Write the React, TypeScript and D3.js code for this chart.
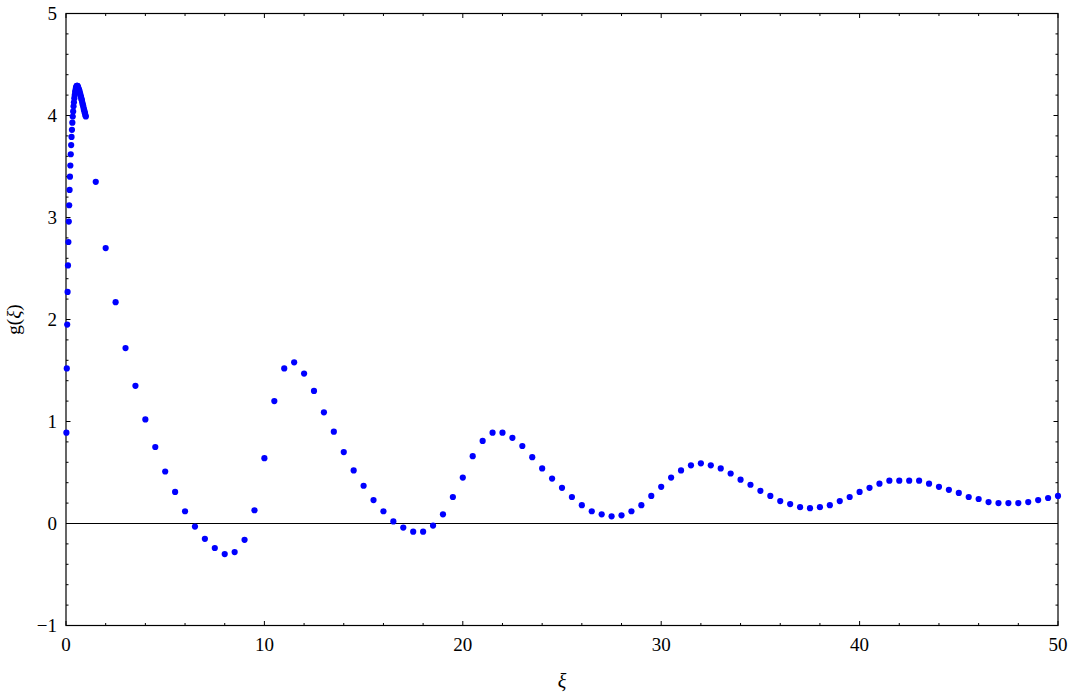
import React from "react";
import * as d3 from "d3";

// Dense sampling near the origin (ξ = 0.02 … 1.00)
const xiFine: number[] = [
  0.02, 0.04, 0.06, 0.08, 0.1, 0.12, 0.14, 0.16, 0.18, 0.2,
  0.22, 0.24, 0.26, 0.28, 0.3, 0.32, 0.34, 0.36, 0.38, 0.4,
  0.42, 0.44, 0.46, 0.48, 0.5, 0.52, 0.54, 0.56, 0.58, 0.6,
  0.62, 0.64, 0.66, 0.68, 0.7, 0.72, 0.74, 0.76, 0.78, 0.8,
  0.82, 0.84, 0.86, 0.88, 0.9, 0.92, 0.94, 0.96, 0.98, 1.0,
];
const gFine: number[] = [
  0.89, 1.52, 1.95, 2.27, 2.53, 2.76, 2.96, 3.12, 3.27, 3.4,
  3.51, 3.62, 3.71, 3.79, 3.86, 3.93, 3.99, 4.04, 4.09, 4.13,
  4.17, 4.2, 4.23, 4.25, 4.27, 4.28, 4.29, 4.29, 4.29, 4.28,
  4.27, 4.26, 4.25, 4.24, 4.22, 4.21, 4.19, 4.18, 4.16, 4.15,
  4.13, 4.11, 4.1, 4.08, 4.06, 4.05, 4.03, 4.02, 4.0, 3.99,
];

// Coarse sampling ξ = 1.5 … 50 in steps of 0.5
const xiCoarse: number[] = [
  1.5, 2, 2.5, 3, 3.5, 4, 4.5, 5, 5.5, 6, 6.5, 7, 7.5, 8, 8.5, 9, 9.5, 10,
  10.5, 11, 11.5, 12, 12.5, 13, 13.5, 14, 14.5, 15, 15.5, 16, 16.5, 17, 17.5,
  18, 18.5, 19, 19.5, 20, 20.5, 21, 21.5, 22, 22.5, 23, 23.5, 24, 24.5, 25,
  25.5, 26, 26.5, 27, 27.5, 28, 28.5, 29, 29.5, 30, 30.5, 31, 31.5, 32, 32.5,
  33, 33.5, 34, 34.5, 35, 35.5, 36, 36.5, 37, 37.5, 38, 38.5, 39, 39.5, 40,
  40.5, 41, 41.5, 42, 42.5, 43, 43.5, 44, 44.5, 45, 45.5, 46, 46.5, 47, 47.5,
  48, 48.5, 49, 49.5, 50,
];
const gCoarse: number[] = [
  3.35, 2.7, 2.17, 1.72, 1.35, 1.02, 0.75, 0.51, 0.31, 0.12, -0.03, -0.15,
  -0.24, -0.3, -0.28, -0.16, 0.13, 0.64, 1.2, 1.52, 1.58, 1.47, 1.3, 1.09,
  0.9, 0.7, 0.52, 0.37, 0.23, 0.12, 0.02, -0.04, -0.08, -0.08, -0.02, 0.09,
  0.26, 0.45, 0.66, 0.81, 0.89, 0.89, 0.84, 0.76, 0.65, 0.54, 0.44, 0.35,
  0.26, 0.18, 0.12, 0.09, 0.07, 0.08, 0.12, 0.18, 0.27, 0.36, 0.45, 0.52,
  0.57, 0.59, 0.57, 0.54, 0.49, 0.43, 0.38, 0.32, 0.27, 0.22, 0.19, 0.16,
  0.15, 0.16, 0.18, 0.22, 0.26, 0.31, 0.35, 0.39, 0.42, 0.42, 0.42, 0.42,
  0.39, 0.36, 0.33, 0.3, 0.26, 0.24, 0.21, 0.2, 0.2, 0.2, 0.21, 0.23, 0.25,
  0.27,
];

const xTickLabels: number[] = [0, 10, 20, 30, 40, 50];
const yTickLabels: number[] = [-1, 0, 1, 2, 3, 4, 5];

const W = 1071;
const H = 692;
const M = { left: 66, right: 1058, top: 13.5, bottom: 625.5 };

export default function App() {
  const x = d3.scaleLinear().domain([0, 50]).range([M.left, M.right]);
  const y = d3.scaleLinear().domain([-1, 5]).range([M.bottom, M.top]);

  const points = [
    ...xiFine.map((xi, i) => ({ xi, g: gFine[i] })),
    ...xiCoarse.map((xi, i) => ({ xi, g: gCoarse[i] })),
  ];

  const xMinor = d3.range(0, 50.001, 2).filter((v) => v % 10 !== 0);
  const yMinor = d3
    .range(-1, 5.001, 0.2)
    .map((v) => Math.round(v * 10) / 10)
    .filter((v) => Math.abs(v - Math.round(v)) > 1e-6);

  const major = 4.5;
  const minor = 2.5;
  const font = "'Liberation Serif', 'Times New Roman', serif";

  return (
    <svg
      width={W}
      height={H}
      style={{ position: "absolute", left: 0, top: 0, background: "#fff" }}
      fontFamily={font}
    >
      {/* zero line */}
      <line x1={M.left} x2={M.right} y1={y(0)} y2={y(0)} stroke="#000" strokeWidth={1.2} />

      {/* frame */}
      <rect
        x={M.left}
        y={M.top}
        width={M.right - M.left}
        height={M.bottom - M.top}
        fill="none"
        stroke="#000"
        strokeWidth={1.2}
      />

      {/* x ticks (bottom & top) */}
      {xTickLabels.map((v) => (
        <g key={"xm" + v}>
          <line x1={x(v)} x2={x(v)} y1={M.bottom} y2={M.bottom - major} stroke="#000" />
          <line x1={x(v)} x2={x(v)} y1={M.top} y2={M.top + major} stroke="#000" />
        </g>
      ))}
      {xMinor.map((v) => (
        <g key={"xn" + v}>
          <line x1={x(v)} x2={x(v)} y1={M.bottom} y2={M.bottom - minor} stroke="#000" />
          <line x1={x(v)} x2={x(v)} y1={M.top} y2={M.top + minor} stroke="#000" />
        </g>
      ))}

      {/* y ticks (left & right) */}
      {yTickLabels.map((v) => (
        <g key={"ym" + v}>
          <line x1={M.left} x2={M.left + major} y1={y(v)} y2={y(v)} stroke="#000" />
          <line x1={M.right} x2={M.right - major} y1={y(v)} y2={y(v)} stroke="#000" />
        </g>
      ))}
      {yMinor.map((v) => (
        <g key={"yn" + v}>
          <line x1={M.left} x2={M.left + minor} y1={y(v)} y2={y(v)} stroke="#000" />
          <line x1={M.right} x2={M.right - minor} y1={y(v)} y2={y(v)} stroke="#000" />
        </g>
      ))}

      {/* tick labels */}
      {xTickLabels.map((v) => (
        <text key={"xl" + v} x={x(v)} y={651} fontSize={19} textAnchor="middle" fill="#000">
          {v}
        </text>
      ))}
      {yTickLabels.map((v) => (
        <text
          key={"yl" + v}
          x={57}
          y={y(v) + 6.5}
          fontSize={19}
          textAnchor="end"
          fill="#000"
        >
          {v < 0 ? "\u2212" + Math.abs(v) : v}
        </text>
      ))}

      {/* axis titles */}
      <text
        x={(M.left + M.right) / 2}
        y={688}
        fontSize={20}
        fontStyle="italic"
        textAnchor="middle"
        fill="#000"
      >
        ξ
      </text>
      <text
        transform={`translate(20, ${(M.top + M.bottom) / 2}) rotate(-90)`}
        fontSize={19}
        textAnchor="middle"
        fill="#000"
      >
        g(<tspan fontStyle="italic">ξ</tspan>)
      </text>

      {/* data points */}
      {points.map((p, i) => (
        <circle key={i} cx={x(p.xi)} cy={y(p.g)} r={3.1} fill="#0000ff" />
      ))}
    </svg>
  );
}
